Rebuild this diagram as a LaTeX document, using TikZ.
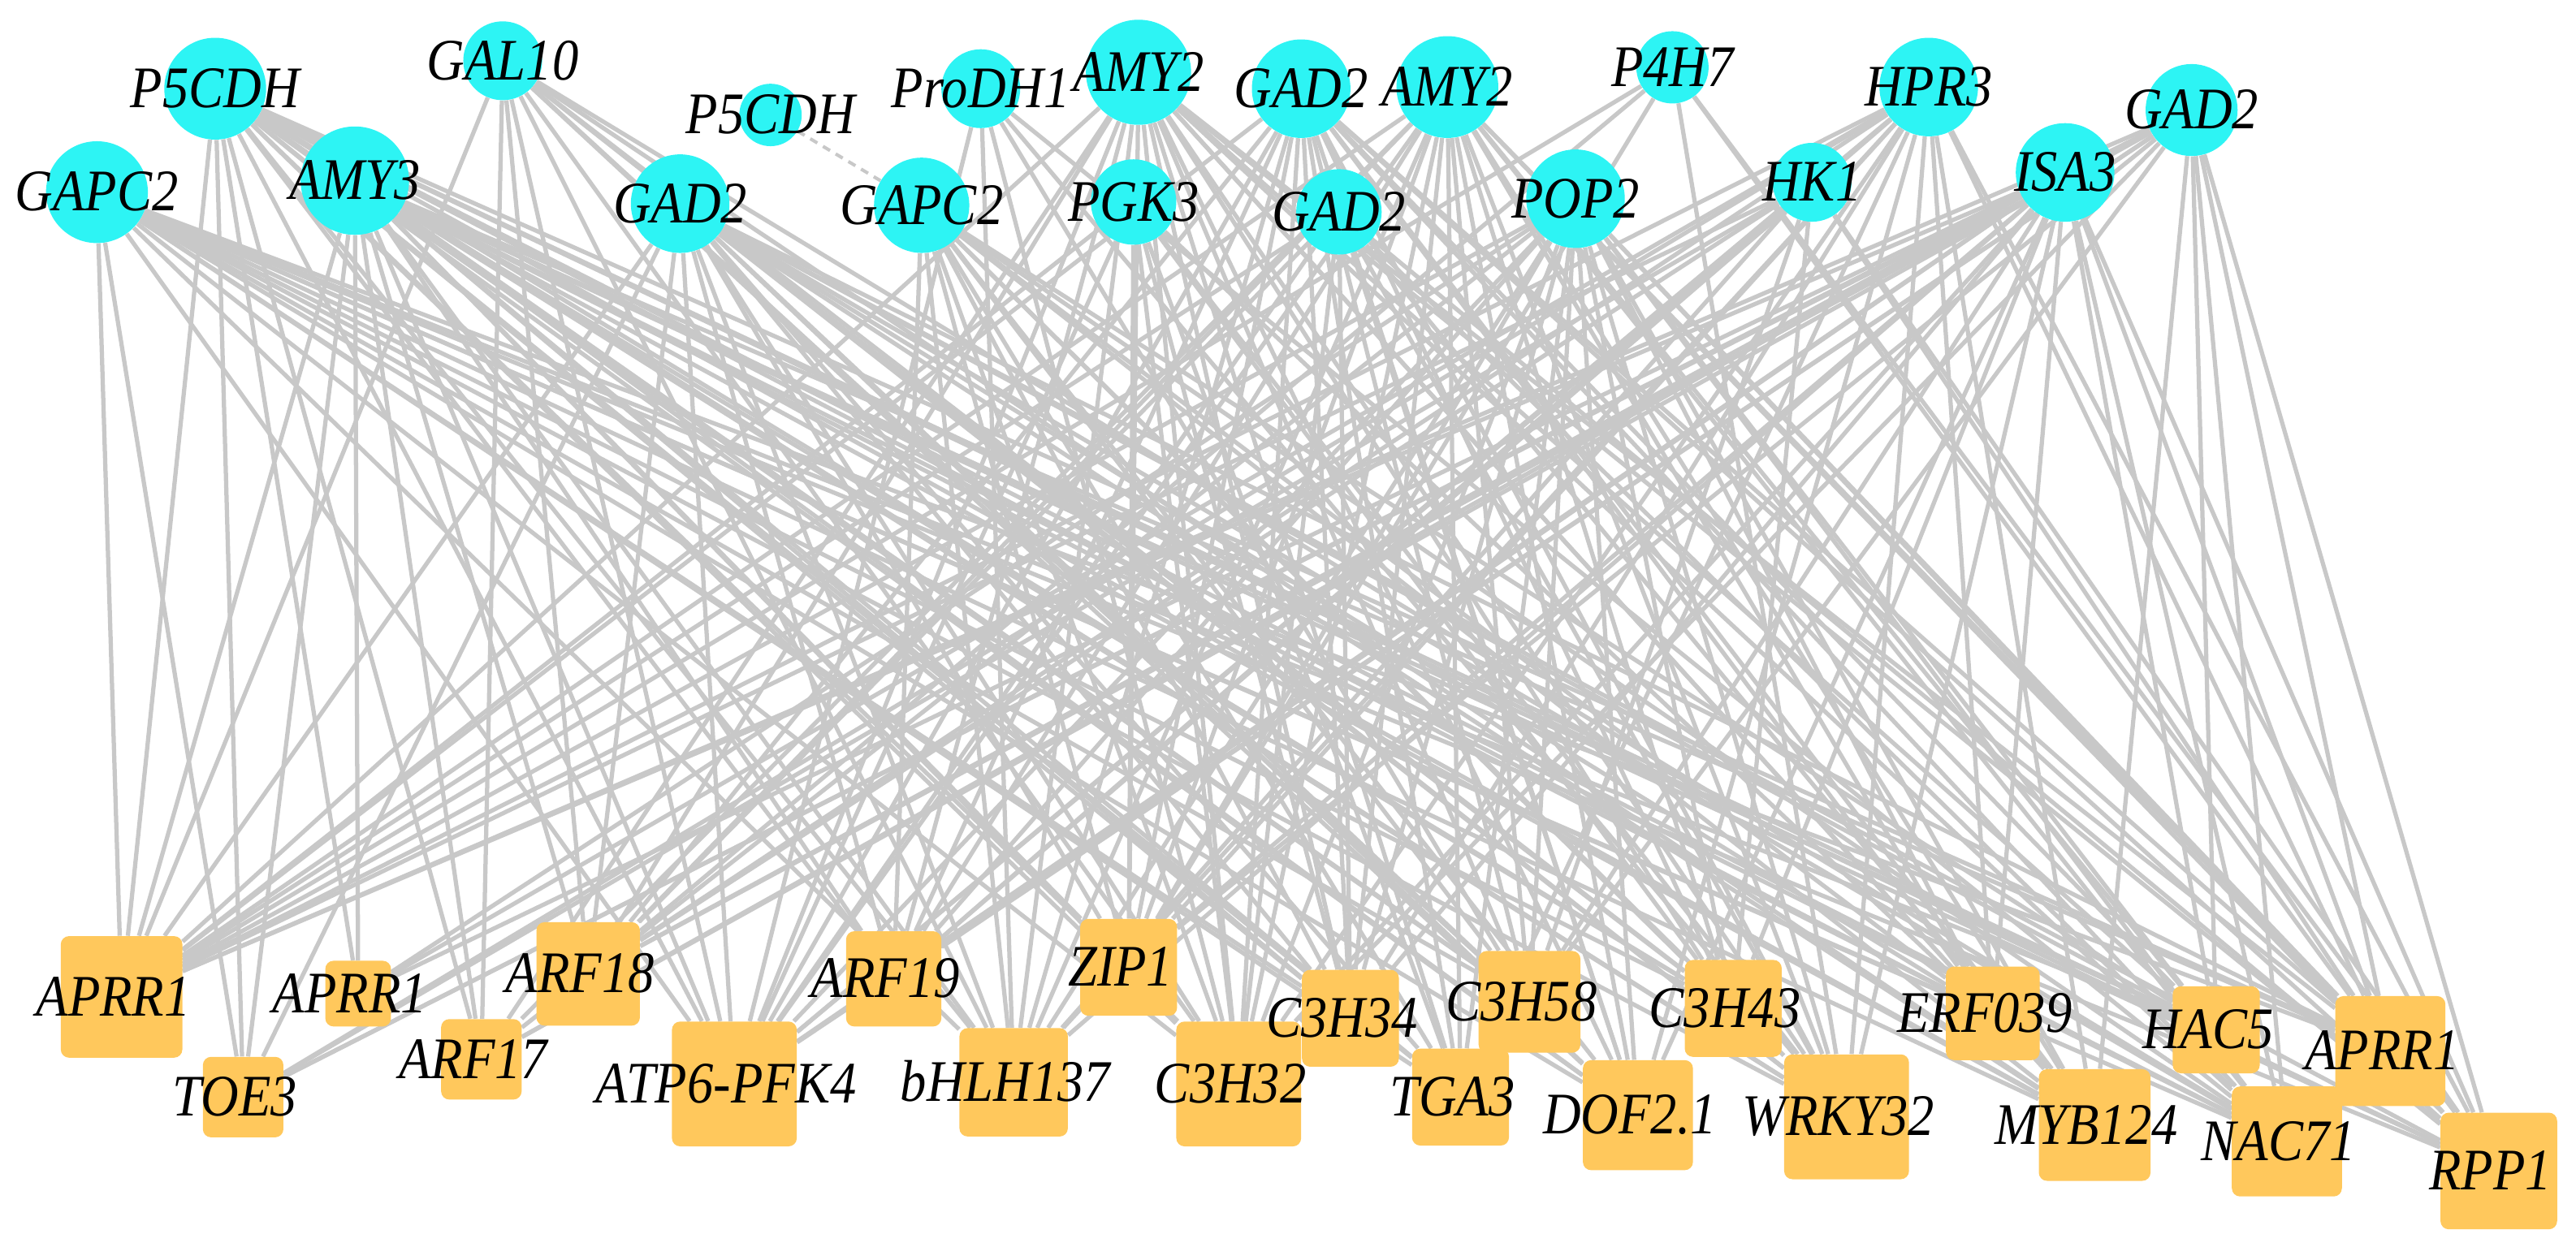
\documentclass[tikz,border=0pt]{standalone}
\usepackage{fontspec}
\setmainfont{Liberation Serif}
\pgfdeclarelayer{edgelayer}
\pgfsetlayers{edgelayer,main}
\definecolor{topc}{RGB}{45,244,244}
\definecolor{botc}{RGB}{255,200,92}
\definecolor{edgec}{RGB}{200,200,200}
\begin{document}
\begin{tikzpicture}[x=1bp,y=-1bp,
 topnode/.style={circle,fill=topc,inner sep=0pt,minimum size=#1},
 botnode/.style={rectangle,rounded corners=5bp,fill=botc,inner sep=0pt,minimum size=#1},
 lab/.style={font=\fontsize{36}{40}\selectfont\itshape,inner sep=0pt,xscale=0.89,anchor=base},
 edge/.style={draw=edgec,line width=2.6bp},
 dashedge/.style={draw=edgec,line width=2bp,dash pattern=on 5bp off 4bp}]
\useasboundingbox (0,0) rectangle (1568,759);
% top nodes
\node[topnode=62bp] (t1) at (131,54) {};
\node[topnode=62bp] (t2) at (59,117) {};
\node[topnode=66bp] (t3) at (216,110) {};
\node[topnode=48bp] (t4) at (306,37) {};
\node[topnode=38bp] (t5) at (469,70) {};
\node[topnode=60bp] (t6) at (414,124) {};
\node[topnode=58bp] (t7) at (561,125) {};
\node[topnode=48bp] (t8) at (597,54) {};
\node[topnode=64bp] (t9) at (693,44) {};
\node[topnode=52bp] (t10) at (690,123) {};
\node[topnode=60bp] (t11) at (792,54) {};
\node[topnode=52bp] (t12) at (815,129) {};
\node[topnode=62bp] (t13) at (881,53) {};
\node[topnode=44bp] (t14) at (1018,41) {};
\node[topnode=60bp] (t15) at (959,121) {};
\node[topnode=48bp] (t16) at (1103,111) {};
\node[topnode=60bp] (t17) at (1174,53) {};
\node[topnode=60bp] (t18) at (1257,105) {};
\node[topnode=56bp] (t19) at (1334,67) {};
% bottom nodes
\node[botnode=74bp] (b1) at (74,607) {};
\node[botnode=40bp] (b2) at (218,605) {};
\node[botnode=49bp] (b3) at (148,668) {};
\node[botnode=49bp] (b4) at (293,645) {};
\node[botnode=63bp] (b5) at (358,593) {};
\node[botnode=76bp] (b6) at (447,660) {};
\node[botnode=58bp] (b7) at (544,596) {};
\node[botnode=59bp] (b8) at (687,589) {};
\node[botnode=66bp] (b9) at (617,659) {};
\node[botnode=76bp] (b10) at (754,660) {};
\node[botnode=59bp] (b11) at (822,620) {};
\node[botnode=62bp] (b12) at (931,610) {};
\node[botnode=59bp] (b13) at (889,668) {};
\node[botnode=67bp] (b14) at (997,679) {};
\node[botnode=59bp] (b15) at (1055,614) {};
\node[botnode=76bp] (b16) at (1124,680) {};
\node[botnode=57bp] (b17) at (1213,617) {};
\node[botnode=68bp] (b18) at (1275,685) {};
\node[botnode=53bp] (b19) at (1349,627) {};
\node[botnode=67bp] (b20) at (1455,640) {};
\node[botnode=67bp] (b21) at (1392,695) {};
\node[botnode=71bp] (b22) at (1521,713) {};
% edges
\begin{pgfonlayer}{edgelayer}
\foreach \b/\ts in {
 b1/{t2,t1,t3,t4,t6,t9,t11,t13,t14,t15,t16,t17,t18,t19,t10,t12},
 b2/{t1,t3,t15,t17,t18},
 b3/{t1,t2,t3,t6,t16,t17,t18,t19},
 b4/{t1,t3,t4,t9,t13,t15,t18,t19},
 b5/{t3,t4,t6,t9,t11,t12,t13,t14,t16,t17,t18,t19},
 b6/{t1,t2,t3,t4,t6,t8,t9,t10,t11,t12,t13,t15,t16,t17,t18,t19},
 b7/{t1,t3,t6,t7,t9,t11,t13,t15,t16,t18,t19,t17},
 b8/{t1,t3,t6,t7,t9,t10,t11,t13,t14,t17,t18,t19,t15},
 b9/{t1,t2,t3,t4,t6,t7,t8,t9,t11,t13,t15,t16,t17,t18},
 b10/{t1,t2,t3,t4,t6,t7,t8,t9,t10,t11,t12,t13,t15,t17,t18,t19},
 b11/{t1,t3,t6,t7,t9,t10,t11,t12,t13,t15,t17,t18,t2},
 b12/{t1,t2,t3,t4,t6,t8,t9,t11,t13,t15,t16,t18,t7},
 b13/{t1,t2,t3,t6,t9,t10,t11,t13,t15,t17,t19,t7},
 b14/{t1,t2,t3,t4,t6,t7,t9,t11,t12,t13,t15,t17,t18},
 b15/{t1,t2,t3,t6,t7,t9,t10,t11,t13,t15,t16,t18,t4},
 b16/{t1,t2,t3,t4,t6,t7,t8,t9,t10,t11,t12,t13,t14,t15,t17,t18},
 b17/{t1,t2,t3,t6,t9,t10,t11,t13,t15,t17,t18,t7},
 b18/{t1,t2,t3,t4,t6,t7,t9,t11,t12,t13,t15,t17,t19},
 b19/{t1,t2,t3,t6,t9,t11,t13,t15,t18,t19,t7},
 b20/{t1,t2,t3,t6,t9,t11,t13,t14,t15,t16,t17,t18,t19},
 b21/{t1,t2,t3,t4,t6,t7,t8,t9,t11,t12,t13,t15,t18,t19},
 b22/{t1,t2,t3,t6,t9,t11,t12,t13,t14,t15,t16,t17,t18,t19}}{
  \foreach \t in \ts {\draw[edge] (\t) -- (\b);}
}
\draw[dashedge] (t5) -- (t7);
\end{pgfonlayer}
% labels
\node[lab] (l1) at (131,65.5) {P5CDH};
\node[lab] (l2) at (59,128.5) {GAPC2};
\node[lab] (l3) at (216,121.5) {AMY3};
\node[lab] (l4) at (306,48.5) {GAL10};
\node[lab] (l5) at (469,81.5) {P5CDH};
\node[lab] (l6) at (414,135.5) {GAD2};
\node[lab] (l7) at (561,136.5) {GAPC2};
\node[lab] (l8) at (597,65.5) {ProDH1};
\node[lab] (l9) at (693,55.5) {AMY2};
\node[lab] (l10) at (690,134.5) {PGK3};
\node[lab] (l11) at (792,65.5) {GAD2};
\node[lab] (l12) at (815,140.5) {GAD2};
\node[lab] (l13) at (881,64.5) {AMY2};
\node[lab] (l14) at (1018,52.5) {P4H7};
\node[lab] (l15) at (959,132.5) {POP2};
\node[lab] (l16) at (1103,122.5) {HK1};
\node[lab] (l17) at (1174,64.5) {HPR3};
\node[lab] (l18) at (1257,116.5) {ISA3};
\node[lab] (l19) at (1334,78.5) {GAD2};
\node[lab] (m1) at (69,618.5) {APRR1};
\node[lab] (m2) at (213,616.5) {APRR1};
\node[lab] (m3) at (143,679.5) {TOE3};
\node[lab] (m4) at (288,656.5) {ARF17};
\node[lab] (m5) at (353,604.5) {ARF18};
\node[lab] (m6) at (442,671.5) {ATP6-PFK4};
\node[lab] (m7) at (539,607.5) {ARF19};
\node[lab] (m8) at (682,600.5) {ZIP1};
\node[lab] (m9) at (612,670.5) {bHLH137};
\node[lab] (m10) at (749,671.5) {C3H32};
\node[lab] (m11) at (817,631.5) {C3H34};
\node[lab] (m12) at (926,621.5) {C3H58};
\node[lab] (m13) at (884,679.5) {TGA3};
\node[lab] (m14) at (992,690.5) {DOF2.1};
\node[lab] (m15) at (1050,625.5) {C3H43};
\node[lab] (m16) at (1119,691.5) {WRKY32};
\node[lab] (m17) at (1208,628.5) {ERF039};
\node[lab] (m18) at (1270,696.5) {MYB124};
\node[lab] (m19) at (1344,638.5) {HAC5};
\node[lab] (m20) at (1450,651.5) {APRR1};
\node[lab] (m21) at (1387,706.5) {NAC71};
\node[lab] (m22) at (1516,724.5) {RPP1};
\end{tikzpicture}
\end{document}
